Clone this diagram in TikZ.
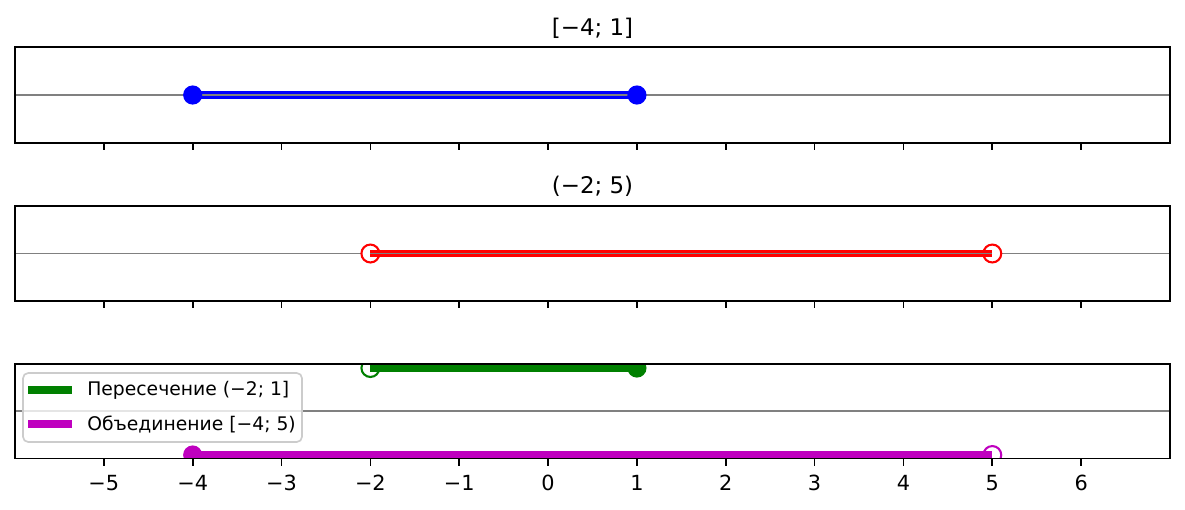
\documentclass[tikz,border=0pt]{standalone}
\usepackage{fontspec}
\setmainfont{DejaVu Sans}
\usetikzlibrary{positioning}
\definecolor{cBlue}{HTML}{0000FF}
\definecolor{cRed}{HTML}{FF0000}
\definecolor{cGreen}{HTML}{008000}
\definecolor{cMag}{HTML}{BF00BF}
\definecolor{cAxis}{HTML}{808080}
\definecolor{cLeg}{HTML}{CCCCCC}
\tikzset{
  frame/.style={draw=black,line width=0.8pt},
  zeroline/.style={draw=cAxis,line width=0.8pt},
  seg/.style={line width=3.5pt},
  tick/.style={draw=black,line width=0.8pt},
  fulldot/.style={circle,inner sep=0pt,minimum size=9.2pt,fill=#1},
  opendot/.style={circle,inner sep=0pt,minimum size=8.6pt,draw=#1,line width=1pt,fill=white},
  ttl/.style={anchor=base,font=\fontsize{11}{13}\selectfont},
  ticklbl/.style={anchor=base,font=\fontsize{10}{12}\selectfont},
  legtext/.style={anchor=west,font=\fontsize{9}{11}\selectfont},
  legframe/.style={draw=cLeg,line width=0.8pt,rounded corners=2.5pt,fill=white,fill opacity=0.8},
}

\begin{document}
\begin{tikzpicture}[x=0.48pt,y=-0.48pt,
  declare function={px(\v)=15+(\v+6)*88.846;}]
  \useasboundingbox (0,0) rectangle (1185,509);

  % panel A: [-4; 1]
  \node[ttl] (ttlA) at (592.5,35) {[−4; 1]};
  \draw[zeroline] (15,95) -- (1170,95);
  \coordinate (a1) at ({px(-4)},95);
  \coordinate (a2) at ({px(1)},95);
  \draw[seg,cBlue] (a1) -- (a2);
  \draw[zeroline] (a1) -- (a2);
  \node[fulldot=cBlue] (dA1) at (a1) {};
  \node[fulldot=cBlue] (dA2) at (a2) {};
  \draw[frame] (15,47) rectangle (1170,143);

  % panel B: (-2; 5)
  \node[ttl] (ttlB) at (592.5,193.5) {(−2; 5)};
  \draw[zeroline] (15,253.5) -- (1170,253.5);
  \coordinate (b1) at ({px(-2)},253.5);
  \coordinate (b2) at ({px(5)},253.5);
  \node[opendot=cRed] (dB1) at (b1) {};
  \node[opendot=cRed] (dB2) at (b2) {};
  \draw[seg,cRed] (b1) -- (b2);
  \draw[zeroline] (b1) -- (b2);
  \draw[frame] (15,206) rectangle (1170,301);

  % panel C: intersection and union
  \draw[zeroline] (15,411) -- (1170,411);
  \begin{scope}
    \clip (15,364) rectangle (1170,458.5);
    \coordinate (c1) at ({px(-2)},368);
    \coordinate (c2) at ({px(1)},368);
    \coordinate (m1) at ({px(-4)},455);
    \coordinate (m2) at ({px(5)},455);
    \node[opendot=cGreen] (dC1) at (c1) {};
    \node[fulldot=cGreen] (dC2) at (c2) {};
    \draw[seg,cGreen] (c1) -- (c2);
    \node[fulldot=cMag] (dM1) at (m1) {};
    \node[opendot=cMag] (dM2) at (m2) {};
    \draw[seg,cMag] (m1) -- (m2);
  \end{scope}
  \draw[frame] (15,364) rectangle (1170,458.5);

  % ticks and labels
  \foreach \v in {-5,...,6} {
    \draw[tick] ({px(\v)},143) -- ++(0,7.3);
    \draw[tick] ({px(\v)},301) -- ++(0,7.3);
    \draw[tick] ({px(\v)},458.5) -- ++(0,7.3);
  }
  \foreach \v/\t in {-5/−5,-4/−4,-3/−3,-2/−2,-1/−1,0/0,1/1,2/2,3/3,4/4,5/5,6/6}
    \node[ticklbl] (lbl\v) at ({px(\v)},490) {\t};

  % legend
  \draw[legframe] (23,373) rectangle (302,442);
  \draw[seg,cGreen] (28,390) -- (72,390);
  \draw[seg,cMag] (28,424) -- (72,424);
  \node[legtext] (legI) at (80,390) {Пересечение (−2; 1]};
  \node[legtext] (legU) at (80,424) {Объединение [−4; 5)};
\end{tikzpicture}
\end{document}
